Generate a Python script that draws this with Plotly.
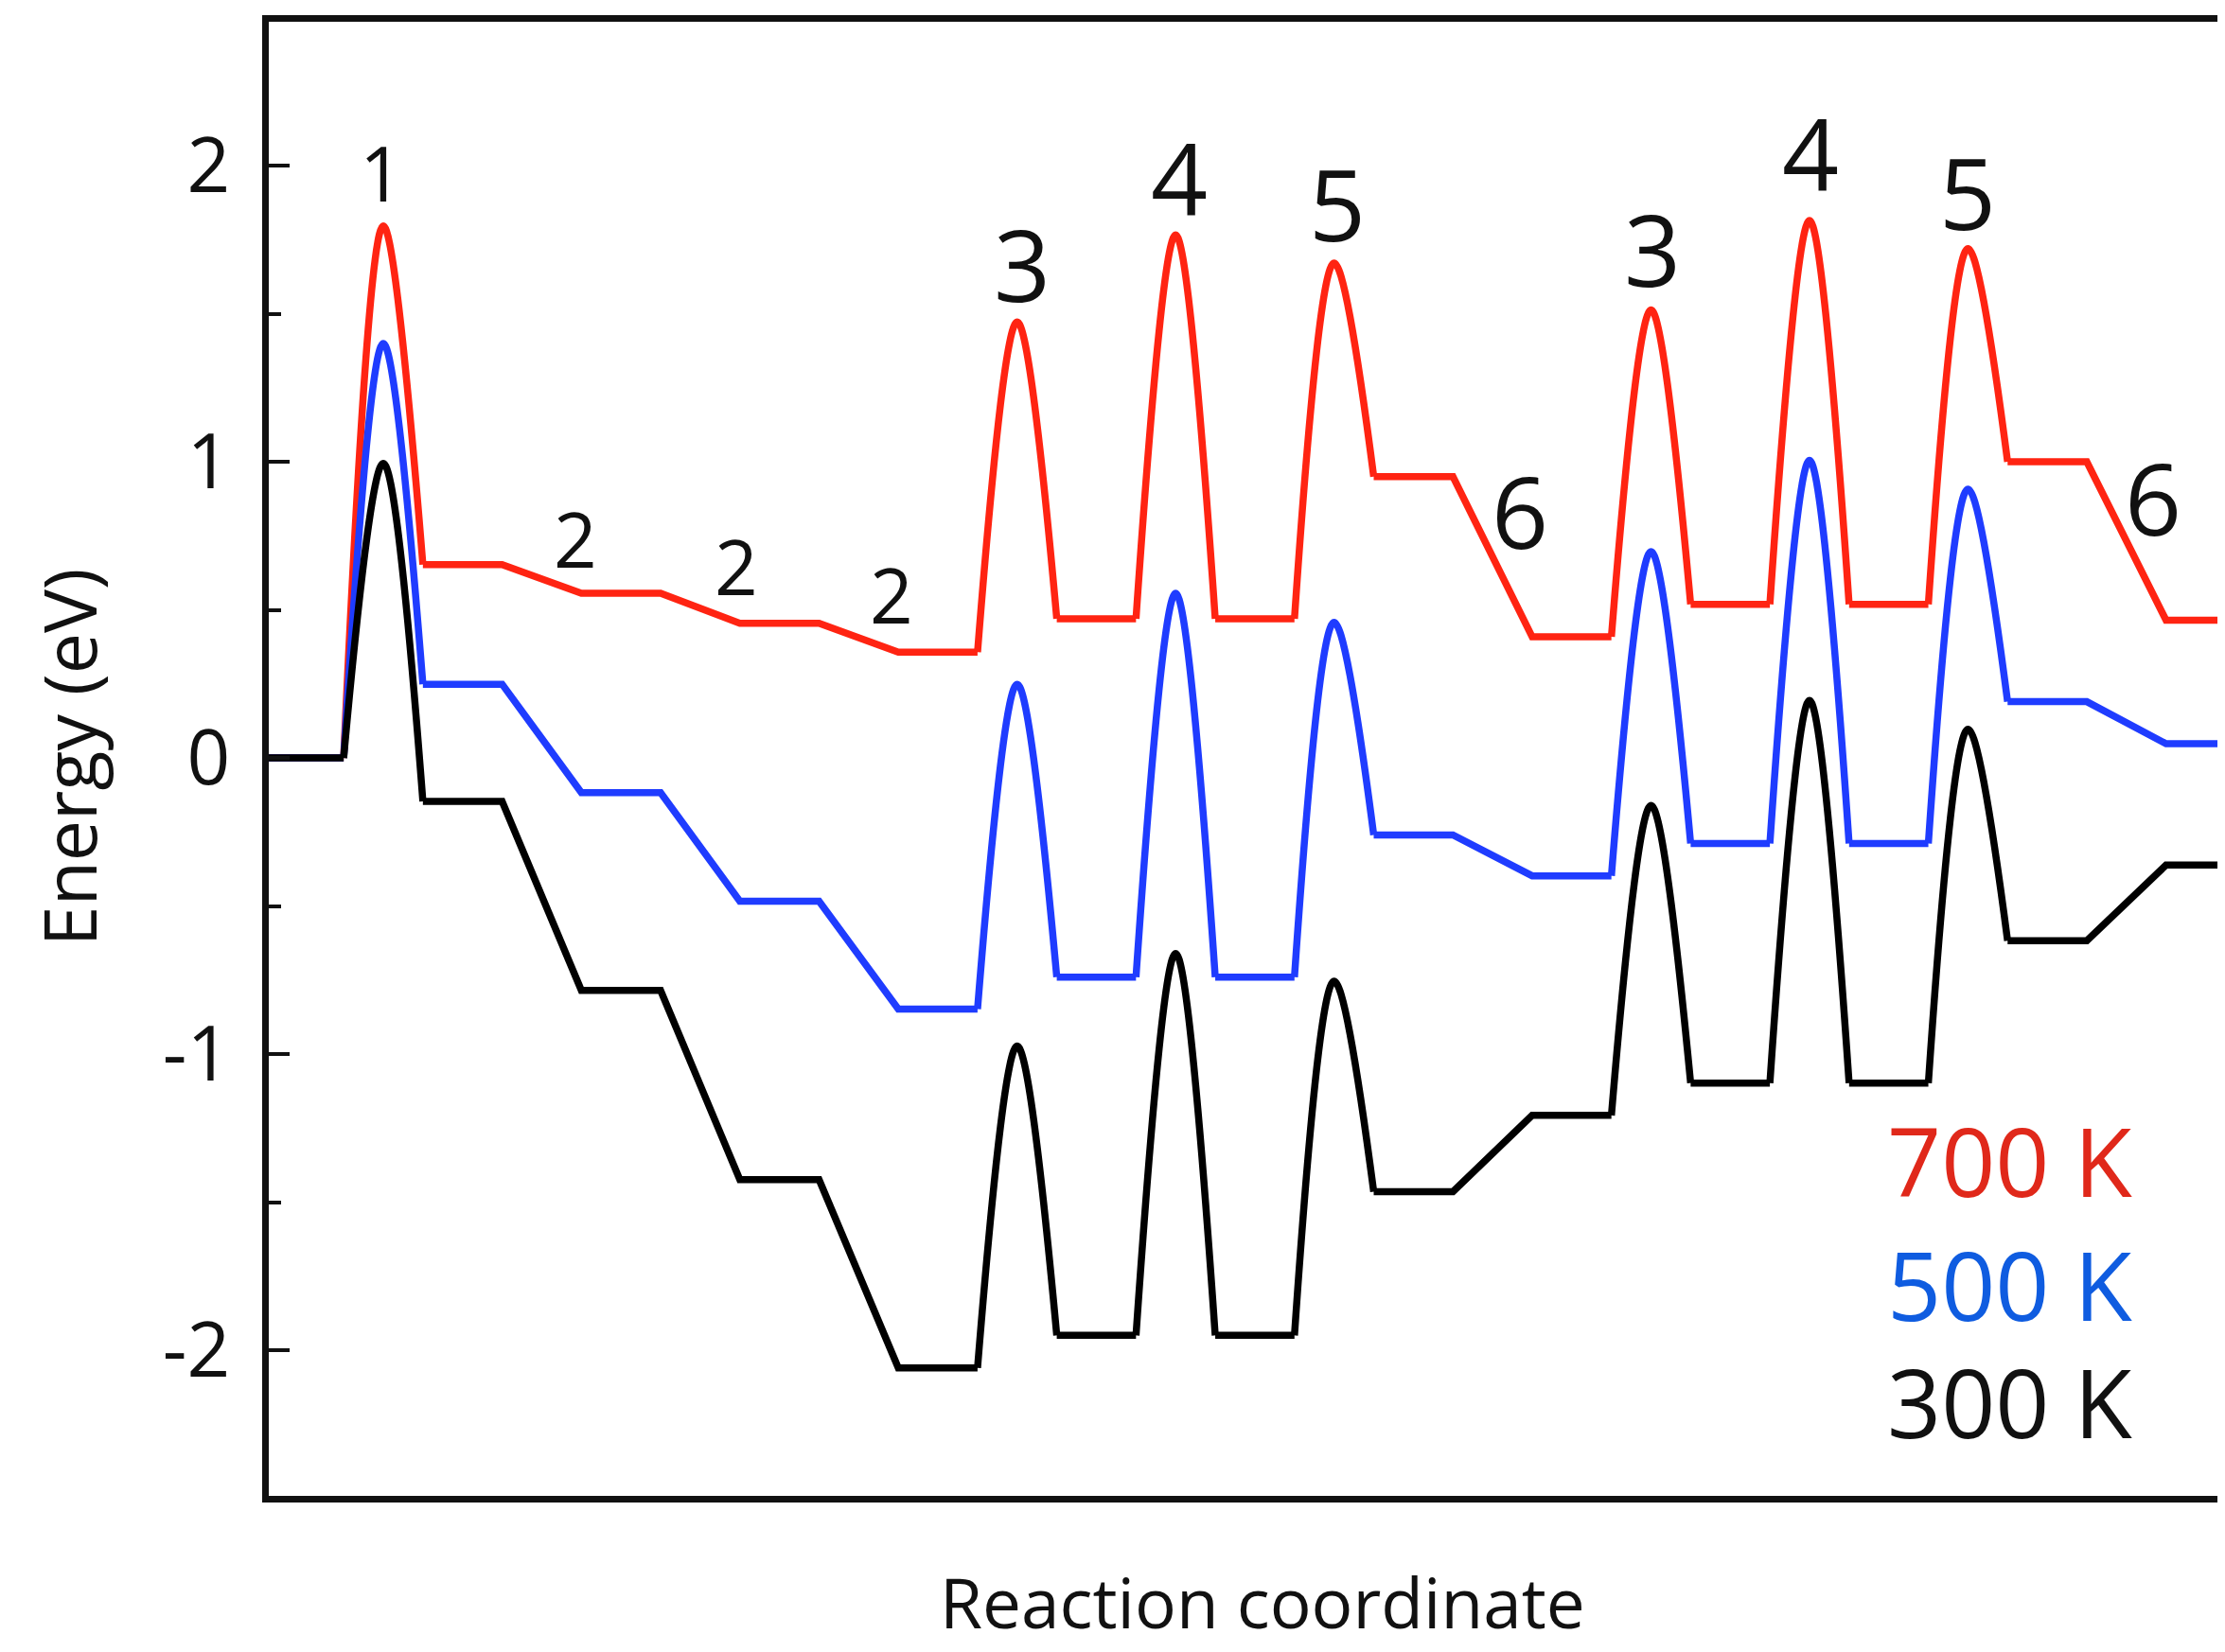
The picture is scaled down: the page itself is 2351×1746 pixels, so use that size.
import plotly.graph_objects as go

# ---------------- data (energies in eV) ----------------
# sequence of stages along the reaction coordinate, each spans one unit
stages = ['flat', 'peak', 'flat', 'ramp', 'flat', 'ramp', 'flat', 'ramp', 'flat',
          'peak', 'flat', 'peak', 'flat', 'peak', 'flat', 'ramp', 'flat',
          'peak', 'flat', 'peak', 'flat', 'peak', 'flat', 'ramp', 'flat']

temps = ['700 K', '500 K', '300 K']

levels_700 = [0.0, 0.653, 0.556, 0.455, 0.357, 0.470, 0.470, 0.950, 0.409,
              0.519, 0.519, 1.000, 0.465]
ts_700 = [1.797, 1.472, 1.766, 1.671, 1.513, 1.815, 1.720]

levels_500 = [0.0, 0.249, -0.117, -0.484, -0.848, -0.740, -0.740, -0.260, -0.398,
              -0.289, -0.289, 0.190, 0.048]
ts_500 = [1.400, 0.249, 0.556, 0.458, 0.697, 1.005, 0.908]

levels_300 = [0.0, -0.147, -0.785, -1.424, -2.060, -1.950, -1.950, -1.465, -1.207,
              -1.098, -1.098, -0.617, -0.362]
ts_300 = [0.995, -0.973, -0.660, -0.754, -0.160, 0.194, 0.097]

# step labels
label_text = ['1', '2', '2', '2', '3', '4', '5', '6', '3', '4', '5', '6']
label_x = [1.48, 3.93, 5.95, 7.91, 9.56, 11.55, 13.54, 15.85, 17.52, 19.51, 21.50, 23.84]
label_y = [1.979, 0.743, 0.652, 0.556, 1.671, 1.963, 1.875, 0.835, 1.720, 2.046, 1.912, 0.882]

y_tickvals = [-2, -1, 0, 1, 2]
y_ticktext = ['-2', '-1', '0', '1', '2']
y_minor = [-1.5, -0.5, 0.5, 1.5]

# ---------------- styles ----------------
line_colors = {'700 K': '#ff2412', '500 K': '#1f3cff', '300 K': '#000000'}
text_colors = {'700 K': '#e0281a', '500 K': '#0f5ce0', '300 K': '#111111'}
FONT = 'Open Sans'


def build_path(levels, ts):
    lx, ly, sx, sy = [], [], [], []
    li, ti = 0, 0
    for i, kind in enumerate(stages):
        if kind == 'flat':
            lx += [i, i + 1]
            ly += [levels[li], levels[li]]
        elif kind == 'ramp':
            li += 1
        else:  # peak (transition state)
            lx.append(None)
            ly.append(None)
            sx += [i, i + 0.5, i + 1, None]
            sy += [levels[li], ts[ti], levels[li + 1], None]
            li += 1
            ti += 1
    return lx, ly, sx, sy


series = {'700 K': (levels_700, ts_700),
          '500 K': (levels_500, ts_500),
          '300 K': (levels_300, ts_300)}

fig = go.Figure()
for t in temps:
    lv, tsv = series[t]
    lx, ly, sx, sy = build_path(lv, tsv)
    fig.add_trace(go.Scatter(x=lx, y=ly, mode='lines', connectgaps=False,
                             line=dict(color=line_colors[t], width=7.5, shape='linear'),
                             showlegend=False, hoverinfo='skip'))
    fig.add_trace(go.Scatter(x=sx, y=sy, mode='lines', connectgaps=False,
                             line=dict(color=line_colors[t], width=7.5, shape='spline',
                                       smoothing=1.0),
                             showlegend=False, hoverinfo='skip'))

annotations = []
for txt, x, y in zip(label_text, label_x, label_y):
    size = 80 if txt in ('1', '2') else 105
    annotations.append(dict(x=x, y=y, xref='x', yref='y', text=txt, showarrow=False,
                            xanchor='center', yanchor='middle',
                            font=dict(family=FONT, size=size, color='#111111')))

legend_y = [-1.359, -1.776, -2.173]
for t, y in zip(temps, legend_y):
    annotations.append(dict(x=20.46, y=y, xref='x', yref='y', text=t, showarrow=False,
                            xanchor='left', yanchor='middle',
                            font=dict(family=FONT, size=100, color=text_colors[t])))

annotations.append(dict(x=0.5082, y=-0.1040, xref='paper', yref='paper',
                        text='Reaction coordinate', showarrow=False,
                        xanchor='center', yanchor='bottom', borderpad=0,
                        font=dict(family=FONT, size=73, color='#111111')))
annotations.append(dict(x=-0.102, y=0.5013, xref='paper', yref='paper',
                        text='Energy (eV)', showarrow=False, textangle=-90,
                        xanchor='center', yanchor='middle',
                        font=dict(family=FONT, size=77, color='#111111')))

# the page body adds an 8px offset, so the figure is sized to fit the window
fig.update_layout(
    width=2343, height=1738,
    margin=dict(l=276, r=0, t=15, b=165),
    paper_bgcolor='white', plot_bgcolor='white',
    annotations=annotations,
    font=dict(family=FONT, color='#111111'),
    xaxis=dict(range=[0.055, 24.744], showline=True, mirror=True, linewidth=6.5,
               linecolor='#111111', showgrid=False, zeroline=False,
               showticklabels=False, ticks=''),
    yaxis=dict(range=[-2.492, 2.486], showline=True, mirror=False, linewidth=6.5,
               linecolor='#111111', showgrid=False, zeroline=False,
               tickmode='array', tickvals=y_tickvals, ticktext=y_ticktext,
               ticks='inside', ticklen=22, tickwidth=4, tickcolor='#111111',
               tickfont=dict(family=FONT, size=80, color='#111111'),
               ticklabelstandoff=18,
               minor=dict(tickvals=y_minor, ticks='inside', ticklen=13,
                          tickwidth=4, tickcolor='#111111', showgrid=False)),
)

fig.write_html('out.html')
